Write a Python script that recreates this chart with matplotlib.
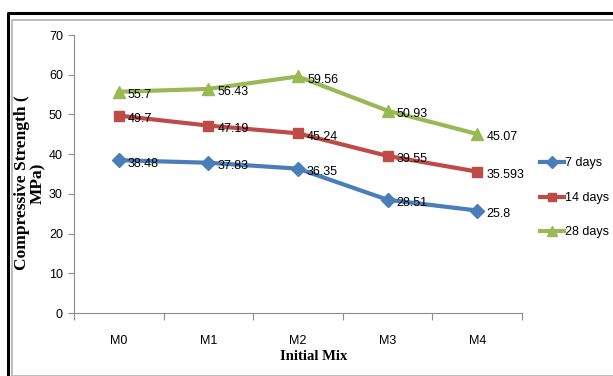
import matplotlib
matplotlib.use("Agg")
from matplotlib import pyplot as plt
from matplotlib.lines import Line2D

mixes = ["M0", "M1", "M2", "M3", "M4"]
days7 = [38.48, 37.83, 36.35, 28.51, 25.8]
days14 = [49.7, 47.19, 45.24, 39.55, 35.593]
days28 = [55.7, 56.43, 59.56, 50.93, 45.07]
label7 = ["38.48", "37.83", "36.35", "28.51", "25.8"]
label14 = ["49.7", "47.19", "45.24", "39.55", "35.593"]
label28 = ["55.7", "56.43", "59.56", "50.93", "45.07"]

W, H = 613, 376
fig = plt.figure(figsize=(W / 100, H / 100), dpi=100)

def px(x, y):
    return x / W, 1 - y / H

# frame around the chart: black outer, gray inner
for xs, ys, c, lw in [
    ([7.5, 7.5, 620], [390, 12.5, 12.5], "black", 2.2),
    ([11.5, 11.5, 620], [375, 19.5, 19.5], "#b0b0b0", 1.2),
    ([11.5, 620], [375.5, 375.5], "#b0b0b0", 1.2),
]:
    pts = [px(x, y) for x, y in zip(xs, ys)]
    fig.add_artist(Line2D([p[0] for p in pts], [p[1] for p in pts],
                          color=c, lw=lw, transform=fig.transFigure))

ax = fig.add_axes([74 / W, 1 - 313 / H, (522 - 74) / W, (313 - 35) / H])

tick_family = ["Liberation Sans", "DejaVu Sans"]
tick_size = 9

series = [
    (days7, label7, "#4a7ebb", "D", 7.5, "7 days"),
    (days14, label14, "#be4b48", "s", 7.5, "14 days"),
    (days28, label28, "#98b954", "^", 8.5, "28 days"),
]
x = list(range(len(mixes)))
for vals, labs, col, mk, ms, name in series:
    ax.plot(x, vals, color=col, lw=3, marker=mk, markersize=ms, label=name)
    for xi, v, t in zip(x, vals, labs):
        ax.annotate(t, (xi, v), xytext=(6.5, -2.5), textcoords="offset points",
                    ha="left", va="center", family=tick_family,
                    size=tick_size, color="black")

ax.set_xlim(-0.5, 4.5)
ax.set_ylim(0, 70)
ax.set_yticks(range(0, 71, 10))
ax.set_xticks(x)
ax.set_xticklabels(mixes)
ax.set_xticks([i + 0.5 for i in range(-1, 5)], minor=True)
ax.tick_params(axis="x", which="major", length=0, pad=16)
ax.tick_params(axis="x", which="minor", length=5, color="#8c8c8c", width=0.8)
ax.tick_params(axis="y", length=4, color="#8c8c8c", width=0.8, pad=4)
for lab in ax.get_xticklabels() + ax.get_yticklabels():
    lab.set_fontfamily(tick_family)
    lab.set_fontsize(tick_size)

for side in ["top", "right"]:
    ax.spines[side].set_visible(False)
for side in ["left", "bottom"]:
    ax.spines[side].set_color("#8c8c8c")
    ax.spines[side].set_linewidth(0.8)

label_font = {"family": ["Liberation Serif", "DejaVu Serif"], "weight": "bold"}
ax.set_xlabel("Initial Mix", fontdict=label_font, size=10.5, labelpad=0)
ax.xaxis.set_label_coords((314 - 74) / (522 - 74), -(357 - 313) / (313 - 35))
ax.xaxis.label.set_va("center")
ax.set_ylabel("Compressive Strength (\nMPa)", fontdict=label_font, size=12.5,
              linespacing=1.0)
ax.yaxis.set_label_coords(-(74 - 30) / (522 - 74), (313 - 183) / (313 - 35))
ax.yaxis.label.set_va("center")

leg = ax.legend(loc="center left", bbox_to_anchor=px(540, 198),
                bbox_transform=fig.transFigure, frameon=False,
                prop={"family": tick_family, "size": tick_size},
                handlelength=1.9, handletextpad=0.1, labelspacing=1.8,
                markerscale=0.85, borderaxespad=0, borderpad=0)

fig.savefig("out.png", dpi=100)
